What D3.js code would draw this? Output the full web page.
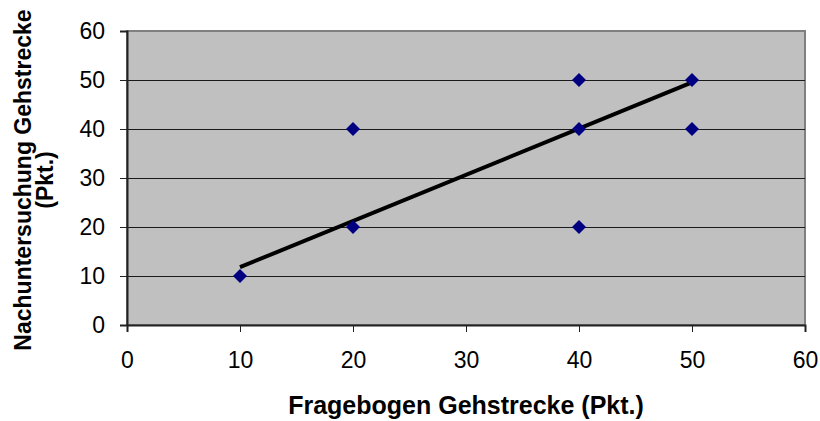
<!DOCTYPE html>
<html>
<head>
<meta charset="utf-8">
<script src="https://cdn.jsdelivr.net/npm/d3@7"></script>
<style>
  html, body { margin: 0; padding: 0; background: #ffffff; }
  svg { display: block; font-family: "Liberation Sans", Arial, sans-serif; }
</style>
</head>
<body>
<svg id="chart" width="820" height="421"></svg>
<script>
// Questionnaire score vs. follow-up examination score (walking distance)
const fragebogen       = [10, 20, 20, 40, 40, 40, 50, 50];
const nachuntersuchung = [10, 20, 40, 20, 40, 50, 40, 50];
// Linear trend line endpoints (x, y)
const trendX = [10, 50];
const trendY = [11.8, 49.5];
const xTicks = [0, 10, 20, 30, 40, 50, 60];
const yTicks = [0, 10, 20, 30, 40, 50, 60];
const xTitle = "Fragebogen Gehstrecke (Pkt.)";
const yTitleLines = ["Nachuntersuchung Gehstrecke", "(Pkt.)"];

const svg = d3.select("#chart");
const plot = { left: 127, top: 31, right: 805, bottom: 325 };

const x = d3.scaleLinear().domain([0, 60]).range([plot.left, plot.right]);
const y = d3.scaleLinear().domain([0, 60]).range([plot.bottom, plot.top]);

// plot background
svg.append("rect")
  .attr("x", plot.left).attr("y", plot.top)
  .attr("width", plot.right - plot.left).attr("height", plot.bottom - plot.top)
  .attr("fill", "#c0c0c0")
  .attr("stroke", "#808080").attr("stroke-width", 2);

// horizontal gridlines
svg.append("g").selectAll("line")
  .data(yTicks.filter(d => d > 0 && d < 60))
  .join("line")
  .attr("x1", plot.left).attr("x2", plot.right)
  .attr("y1", d => Math.round(y(d)) + 0.5).attr("y2", d => Math.round(y(d)) + 0.5)
  .attr("stroke", "#1a1a1a").attr("stroke-width", 1);

// axes
const yAxis = d3.axisLeft(y).tickValues(yTicks).tickSize(7).tickPadding(15);
const xAxis = d3.axisBottom(x).tickValues(xTicks).tickSize(7).tickPadding(20);

const gy = svg.append("g").attr("transform", `translate(${plot.left},0)`).call(yAxis);
const gx = svg.append("g").attr("transform", `translate(0,${plot.bottom})`).call(xAxis);

[gx, gy].forEach(g => {
  g.select(".domain").attr("stroke", "#222").attr("stroke-width", 2);
  g.selectAll(".tick line").attr("stroke", "#222").attr("stroke-width", 1);
  g.selectAll(".tick text")
    .attr("fill", "#000")
    .style("font-family", "'Liberation Sans', Arial, sans-serif")
    .style("font-size", "23px");
});

// trend line
svg.append("line")
  .attr("x1", x(trendX[0])).attr("y1", y(trendY[0]))
  .attr("x2", x(trendX[1])).attr("y2", y(trendY[1]))
  .attr("stroke", "#000").attr("stroke-width", 4);

// diamond markers
const diamond = d3.symbol().type(d3.symbolDiamond2).size(125);
svg.append("g").selectAll("path")
  .data(fragebogen.map((f, i) => [f, nachuntersuchung[i]]))
  .join("path")
  .attr("transform", d => `translate(${x(d[0])},${y(d[1])})`)
  .attr("d", diamond)
  .attr("fill", "#000080");

// axis titles
svg.append("text")
  .attr("x", (plot.left + plot.right) / 2).attr("y", 414)
  .attr("text-anchor", "middle")
  .style("font-weight", "bold").style("font-size", "25px")
  .text(xTitle);

const yt = svg.append("text")
  .attr("transform", `translate(0,180) rotate(-90)`)
  .attr("text-anchor", "middle")
  .style("font-weight", "bold").style("font-size", "23px");
yTitleLines.forEach((t, i) => {
  yt.append("tspan").attr("x", 0).attr("y", 31 + i * 22).text(t);
});
</script>
</body>
</html>
